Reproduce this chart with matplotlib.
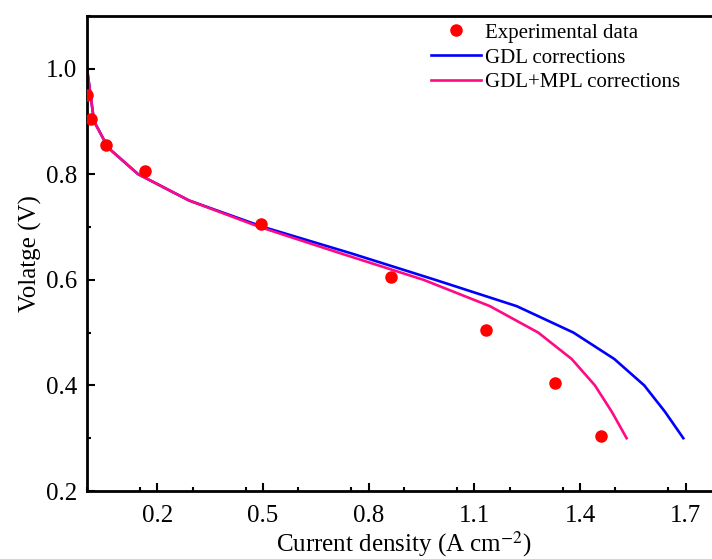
import numpy as np
import matplotlib
matplotlib.use("Agg")
import matplotlib.pyplot as plt
from matplotlib.ticker import MultipleLocator

# ---------------------------------------------------------
# Data
# ---------------------------------------------------------
exp_current = [0.0, 0.01, 0.055, 0.165, 0.495, 0.862, 1.132, 1.328, 1.46]
exp_voltage = [0.95, 0.905, 0.855, 0.805, 0.705, 0.605, 0.505, 0.405, 0.305]

gdl_current = [0.0, 0.02, 0.06, 0.145, 0.29, 0.50, 0.75, 0.988, 1.22, 1.381, 1.497, 1.582, 1.641, 1.693]
gdl_voltage = [1.0, 0.90, 0.85, 0.80, 0.75, 0.70, 0.65, 0.60, 0.55, 0.50, 0.45, 0.40, 0.35, 0.30]

mpl_current = [0.0, 0.02, 0.06, 0.145, 0.29, 0.49, 0.72, 0.955, 1.144, 1.281, 1.376, 1.442, 1.49, 1.532]
mpl_voltage = [1.0, 0.90, 0.85, 0.80, 0.75, 0.70, 0.65, 0.60, 0.55, 0.50, 0.45, 0.40, 0.35, 0.30]

x_ticks = [0.2, 0.5, 0.8, 1.1, 1.4, 1.7]
y_ticks = [0.2, 0.4, 0.6, 0.8, 1.0]

# ---------------------------------------------------------
# Plot
# ---------------------------------------------------------
plt.rcParams["font.family"] = ["Liberation Serif", "DejaVu Serif"]
plt.rcParams["mathtext.fontset"] = "stix"

fig = plt.figure(figsize=(7.12, 5.59), dpi=100)
ax = fig.add_axes([87 / 712, 1 - 491 / 559, (721 - 87) / 712, (491 - 15.7) / 559])

ax.plot(exp_current, exp_voltage, "o", color="#ff0000", markersize=8,
        label="Experimental data", zorder=3)
ax.plot(gdl_current, gdl_voltage, color="#0000ff", linewidth=1.9,
        label="GDL corrections")
ax.plot(mpl_current, mpl_voltage, color="#ff0a84", linewidth=1.9,
        label="GDL+MPL corrections")

ax.set_xlim(0.0, 1.8)
ax.set_ylim(0.2, 1.1)
ax.set_xticks(x_ticks)
ax.set_xticklabels([f"{t:.1f}" for t in x_ticks])
ax.set_yticks(y_ticks)
ax.set_yticklabels([f"{t:.1f}" for t in y_ticks])
ax.xaxis.set_minor_locator(MultipleLocator(0.15))
ax.yaxis.set_minor_locator(MultipleLocator(0.1))

ax.tick_params(which="both", direction="in", top=False, right=False,
               labelsize=18, width=1.5, pad=7)
ax.tick_params(axis="x", which="major", pad=10)
ax.tick_params(which="major", length=6)
ax.tick_params(which="minor", length=3)
for side in ["left", "bottom", "top"]:
    ax.spines[side].set_linewidth(2)
ax.spines["right"].set_visible(False)

ax.set_xlabel("Current density (A cm$^{-2}$)", fontsize=18, labelpad=2)
ax.set_ylabel("Volatge (V)", fontsize=18, labelpad=3)

ax.legend(loc="upper left", bbox_to_anchor=(0.52, 1.015), frameon=False,
          fontsize=15, handlelength=2.4, handletextpad=0.2,
          labelspacing=0.25, borderpad=0.2)

fig.savefig("out.png", dpi=100)
